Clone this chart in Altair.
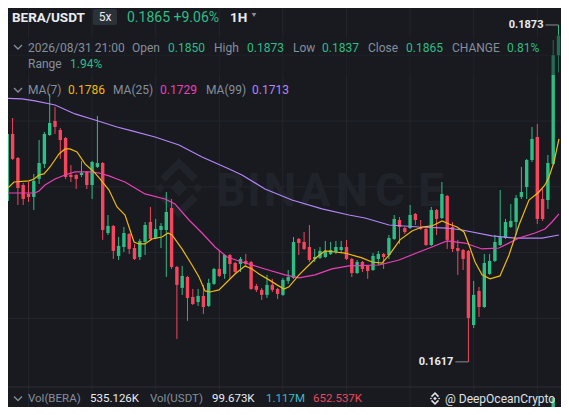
import altair as alt
import pandas as pd

BG = "#181a20"
GREEN = "#2ebd85"
RED = "#f6465d"
GRAY = "#848e9c"
WHITE = "#eaecef"
MA7_C = "#f0b90b"
MA25_C = "#eb40b5"
MA99_C = "#b385f8"
GRID_C = "#23262d"
WM_C = "#202329"
FONT = "Roboto"

# ---- candle data (1H BERA/USDT) ----
opens = [0.17446,0.17393,0.17902,0.17719,0.17514,0.17446,0.17423,0.1756,0.17674,0.17894,
         0.18001,0.17932,0.17871,0.1759,0.1759,0.1759,0.17613,0.17514,0.17651,0.17681,
         0.17149,0.17203,0.16975,0.17043,0.17142,0.17035,0.16967,0.17081,0.17233,0.17111,
         0.17172,0.17172,0.17339,0.16891,0.16732,0.16815,0.16663,0.16625,0.16671,0.16595,
         0.16763,0.16876,0.16838,0.16982,0.16921,0.16914,0.16937,0.16929,0.16747,0.16717,
         0.16679,0.16755,0.16724,0.16679,0.16785,0.16808,0.17104,0.17081,0.17043,0.16952,
         0.1696,0.16967,0.1699,0.17005,0.1702,0.17043,0.16952,0.16845,0.16929,0.16899,
         0.16868,0.16952,0.1699,0.16982,0.17104,0.17248,0.17187,0.17187,0.17294,0.17195,
         0.1718,0.17058,0.17324,0.17263,0.17431,0.17195,0.17035,0.1702,0.17013,0.1645,
         0.16709,0.16587,0.16838,0.16937,0.17058,0.17111,0.17195,0.17233,0.17423,0.17499,
         0.17704,0.17879,0.17408,0.174,0.17674,0.1850]
highs = [0.17461,0.17947,0.18023,0.17727,0.17529,0.17537,0.17598,0.17856,0.17917,0.18206,
         0.18107,0.17947,0.17879,0.17666,0.17598,0.17697,0.1762,0.17697,0.18039,0.17689,
         0.17286,0.1721,0.17119,0.17195,0.17149,0.17066,0.17104,0.17233,0.17347,0.17256,
         0.17225,0.17461,0.17408,0.16899,0.16899,0.16823,0.16724,0.16724,0.16755,0.16801,
         0.16884,0.1702,0.1699,0.1699,0.16929,0.16967,0.1699,0.16937,0.16763,0.16732,
         0.16831,0.16801,0.16732,0.16808,0.16868,0.17119,0.17111,0.17157,0.1721,0.17028,
         0.17043,0.17089,0.17081,0.17089,0.17089,0.17097,0.1696,0.16944,0.16937,0.16906,
         0.16997,0.17013,0.16997,0.17134,0.17286,0.17271,0.17195,0.17362,0.17301,0.17248,
         0.17187,0.17347,0.17332,0.17537,0.17438,0.17233,0.17097,0.17028,0.1702,0.16785,
         0.1674,0.1699,0.1699,0.17134,0.17476,0.17256,0.1737,0.17438,0.17651,0.17712,
         0.17955,0.17978,0.17484,0.17742,0.18616,0.1873]
lows = [0.17347,0.17385,0.17704,0.17362,0.17362,0.17385,0.17324,0.17522,0.17643,0.17887,
        0.17902,0.17712,0.1756,0.17537,0.17484,0.17575,0.17484,0.17408,0.17643,0.17097,
        0.17134,0.16952,0.16944,0.17005,0.1699,0.16944,0.16944,0.16982,0.17089,0.17104,
        0.17035,0.16815,0.16876,0.16344,0.16678,0.16481,0.16602,0.16595,0.16534,0.16587,
        0.16755,0.16815,0.16801,0.16801,0.16838,0.16853,0.16891,0.16717,0.16701,0.1664,
        0.16655,0.16701,0.16648,0.16671,0.16763,0.16801,0.16982,0.1702,0.16929,0.16929,
        0.16952,0.1696,0.16982,0.1699,0.16997,0.16944,0.16815,0.16838,0.16853,0.16801,
        0.16861,0.16906,0.16876,0.16952,0.17097,0.17066,0.17142,0.1718,0.1721,0.17172,
        0.17051,0.17051,0.17134,0.17256,0.17028,0.17005,0.16831,0.16868,0.1617,0.16427,
        0.16511,0.1658,0.16831,0.16929,0.17051,0.17104,0.17187,0.17134,0.17408,0.17408,
        0.17689,0.17218,0.17241,0.17332,0.17666,0.1837]
closes = [0.17393,0.17902,0.17712,0.17491,0.17408,0.17423,0.17545,0.17681,0.17902,0.17985,
          0.17955,0.17856,0.17575,0.17575,0.1756,0.17605,0.17514,0.17689,0.17681,0.17172,
          0.17203,0.17013,0.17051,0.17149,0.17028,0.16952,0.17089,0.1721,0.17104,0.1718,
          0.17203,0.17309,0.16891,0.16755,0.16823,0.16655,0.1661,0.16671,0.16587,0.1677,
          0.16876,0.16823,0.16982,0.16914,0.16853,0.16952,0.16914,0.16724,0.16717,0.16679,
          0.16755,0.16717,0.16686,0.16793,0.16815,0.17081,0.17073,0.17028,0.16944,0.16967,
          0.17013,0.17013,0.1702,0.17043,0.17043,0.16952,0.16845,0.16929,0.16876,0.16861,
          0.16975,0.1699,0.16967,0.17111,0.17256,0.17195,0.17157,0.17286,0.17248,0.1718,
          0.17058,0.17324,0.17256,0.17446,0.17097,0.17028,0.17013,0.16952,0.16503,0.16679,
          0.16587,0.16921,0.16937,0.17081,0.17119,0.17233,0.17241,0.17415,0.17461,0.17704,
          0.17864,0.17256,0.17256,0.17681,0.1850,0.1865]

# ---- moving averages ----
ma7_idx = [0.0,1.32,2.26,5.09,6.04,6.98,7.92,9.06,10.75,11.89,12.83,14.15,15.66,17.36,18.49,20.19,
           21.70,23.21,24.91,25.85,26.98,28.30,30.19,31.32,32.08,33.96,35.85,37.17,38.30,39.25,
           40.94,42.45,43.96,45.85,47.17,48.49,50.38,51.89,53.21,54.15,56.04,57.92,59.43,60.94,
           62.83,64.72,67.92,69.81,71.70,73.21,75.09,77.36,79.25,81.13,83.02,84.34,85.85,87.17,
           88.11,89.25,90.57,92.08,93.96,95.66,97.55,99.43,101.32,102.45,103.21,104.15,105.09]
ma7_val = [0.17469,0.17499,0.17537,0.17545,0.1756,0.1759,0.17598,0.17651,0.1775,0.17788,0.17788,
           0.17765,0.17674,0.17613,0.1756,0.17476,0.17347,0.17286,0.17081,0.17066,0.17066,0.17104,
           0.17119,0.17149,0.17134,0.17028,0.16906,0.16815,0.16709,0.16701,0.16717,0.16777,0.16838,
           0.16899,0.16876,0.16838,0.16793,0.16755,0.16724,0.1674,0.16831,0.16906,0.16967,0.17013,
           0.17005,0.16997,0.1696,0.16929,0.16921,0.1699,0.17097,0.17165,0.17195,0.17203,0.17241,
           0.17218,0.17195,0.17157,0.17058,0.16929,0.16831,0.16801,0.16823,0.16982,0.1721,0.174,
           0.17461,0.17514,0.17575,0.17689,0.17864]
ma25_idx = [0.0,2.45,6.23,6.98,8.11,10.0,11.89,13.77,16.42,18.30,20.19,21.70,23.21,25.09,26.98,
            30.75,32.64,35.28,37.74,40.19,42.45,45.28,49.62,53.40,56.04,59.06,62.26,65.47,71.13,
            74.91,78.68,81.13,83.96,87.36,90.57,93.77,97.55,100.57,102.45,103.77,105.09]
ma25_val = [0.17453,0.17453,0.17453,0.17469,0.17514,0.1756,0.1759,0.17613,0.17613,0.17605,0.17583,
            0.1756,0.17537,0.17491,0.17446,0.17408,0.1737,0.17248,0.17149,0.17043,0.16967,0.16929,
            0.16876,0.16831,0.16808,0.16831,0.16876,0.16899,0.16906,0.16944,0.17005,0.17043,0.17089,
            0.17073,0.17028,0.17035,0.17111,0.17149,0.1718,0.17233,0.17294]
ma99_idx = [0.0,3.77,6.23,10.0,13.77,17.55,21.70,24.53,28.87,33.40,37.74,42.45,45.28,49.62,54.72,
            60.38,65.47,68.49,73.02,78.68,83.96,86.79,92.45,96.79,101.89,105.09]
ma99_val = [0.18175,0.18168,0.18153,0.18122,0.18054,0.18008,0.17955,0.17925,0.17879,0.17818,0.17727,
            0.17643,0.1759,0.17484,0.174,0.17332,0.17286,0.17263,0.1721,0.17195,0.17187,0.17172,
            0.17127,0.17111,0.17111,0.17134]

grid_x = [5, 17, 29, 41, 53, 65, 77, 89, 101]
grid_y = [0.165, 0.170, 0.175, 0.180, 0.185]
vol_idx = [104]
marker_idx = [105, 88]
marker_price = [0.1873, 0.1617]
marker_text = ["0.1873", "0.1617"]

n = len(opens)
df = pd.DataFrame({"idx": list(range(n)), "open": opens, "high": highs,
                   "low": lows, "close": closes})
df["dir"] = ["up" if c >= o else "down" for o, c in zip(opens, closes)]

W, H = 553, 399
xs = alt.Scale(domain=[1.1321, 105.4717], nice=False, zero=False)
ys = alt.Scale(domain=[0.15827, 0.18859], nice=False, zero=False)
colr = alt.Color("dir:N", scale=alt.Scale(domain=["up", "down"], range=[GREEN, RED]), legend=None)


def X(f="idx"):
    return alt.X(f"{f}:Q", scale=xs, axis=None)


def Y(f):
    return alt.Y(f"{f}:Q", scale=ys, axis=None)


def px(v):  # reference pixel -> chart pixel
    return v - 6


def label(s, x, y, color, size=12, weight="normal", align="left"):
    return alt.Chart(pd.DataFrame({"t": [s]})).mark_text(
        align=align, baseline="middle", fontSize=size, fontWeight=weight, font=FONT, color=color
    ).encode(text="t:N", x=alt.value(px(x)), y=alt.value(px(y)))


one = pd.DataFrame({"a": [0]})

vgrid = alt.Chart(pd.DataFrame({"idx": grid_x})).mark_rule(color=GRID_C, strokeWidth=1).encode(x=X())
hgrid = alt.Chart(pd.DataFrame({"p": grid_y})).mark_rule(color=GRID_C, strokeWidth=1).encode(y=Y("p"))
sep = alt.Chart(one).mark_rule(color="#2b2f36", strokeWidth=1).encode(
    x=alt.value(0), x2=alt.value(W), y=alt.value(px(385)))

# watermark
LOGO = ("M0,-0.28L0.28,0L0,0.28L-0.28,0Z "
        "M-0.62,-0.15L-0.47,0L-0.62,0.15L-0.77,0Z "
        "M0.62,-0.15L0.77,0L0.62,0.15L0.47,0Z "
        "M0,-1L0.62,-0.38L0.45,-0.21L0,-0.66L-0.45,-0.21L-0.62,-0.38Z "
        "M0,1L0.62,0.38L0.45,0.21L0,0.66L-0.45,0.21L-0.62,0.38Z")
wm_logo = alt.Chart(one).mark_point(shape=LOGO, filled=True, color=WM_C, opacity=1, size=3600).encode(
    x=alt.value(px(177)), y=alt.value(px(186)))
wm_letters = []
for ch, cx in zip("BINANCE", [229, 252, 278, 313, 350, 388, 429]):
    wm_letters.append(label(ch, cx, 190, WM_C, size=46, weight="bold", align="center"))

wicks = alt.Chart(df).mark_rule(strokeWidth=1, clip=True).encode(
    x=X(), y=Y("low"), y2="high:Q", color=colr)
bodies = alt.Chart(df).mark_rule(strokeWidth=3.4, clip=True).encode(
    x=X(), y=Y("open"), y2="close:Q", color=colr)


def ma_line(ix, vals, c):
    return alt.Chart(pd.DataFrame({"idx": ix, "v": vals})).mark_line(
        color=c, strokeWidth=1.2, clip=True).encode(x=X(), y=Y("v"), order="idx:Q")


ma99 = ma_line(ma99_idx, ma99_val, MA99_C)
ma25 = ma_line(ma25_idx, ma25_val, MA25_C)
ma7 = ma_line(ma7_idx, ma7_val, MA7_C)

overlay = alt.Chart(one).mark_rect(color=BG, opacity=0.5).encode(
    x=alt.value(0), x2=alt.value(W), y=alt.value(px(33)), y2=alt.value(px(73)))

volbar = alt.Chart(pd.DataFrame({"idx": vol_idx})).mark_rule(color=GREEN, strokeWidth=3.4, clip=True).encode(
    x=X(), y=alt.value(px(396)), y2=alt.value(H))

mk = pd.DataFrame({"idx": marker_idx, "p": marker_price, "t": marker_text})
mk_text = alt.Chart(mk).mark_text(align="right", baseline="middle", fontSize=11, fontWeight="bold",
                                  font=FONT, color=WHITE, dx=-15).encode(x=X(), y=Y("p"), text="t:N")
mk_line = alt.Chart(mk).mark_tick(color="#b7bdc6", thickness=1, size=13, orient="horizontal",
                                  xOffset=-6.5).encode(x=X(), y=Y("p"))

# header
box5x = alt.Chart(one).mark_rect(color="#2b3139", cornerRadius=2).encode(
    x=alt.value(px(91)), x2=alt.value(px(115)), y=alt.value(px(7)), y2=alt.value(px(23)))
CHEV = "M-1,-0.5L0,0.5L1,-0.5"


def chev(x, y):
    return alt.Chart(one).mark_point(shape=CHEV, filled=False, color=GRAY, strokeWidth=1.3,
                                     size=64, opacity=1).encode(x=alt.value(px(x)), y=alt.value(px(y)))


tri = alt.Chart(one).mark_point(shape="triangle-down", filled=True, color=GRAY, size=22, opacity=1).encode(
    x=alt.value(px(252)), y=alt.value(px(13)))
small_logo = alt.Chart(one).mark_point(shape=LOGO, filled=True, color="#dfe1e4", size=170, opacity=1).encode(
    x=alt.value(px(433)), y=alt.value(px(396.5)))

BOT = 396.5
texts = [
    label("BERA/USDT", 10, 15.5, WHITE, 13.5, "bold"),
    label("5x", 103, 15, WHITE, 12, "normal", "center"),
    label("0.1865 +9.06%", 125, 15.5, GREEN, 14),
    label("1H", 228, 15.5, WHITE, 13.5, "bold"),
    label("2026/08/31 21:00", 26, 45.5, GRAY, 12),
    label("Open", 130, 45.5, GRAY, 12),
    label("0.1850", 166, 45.5, GREEN, 12),
    label("High", 212, 45.5, GRAY, 12),
    label("0.1873", 245, 45.5, GREEN, 12),
    label("Low", 291, 45.5, GRAY, 12),
    label("0.1837", 320, 45.5, GREEN, 12),
    label("Close", 366, 45.5, GRAY, 12),
    label("0.1865", 404, 45.5, GREEN, 12),
    label("CHANGE", 450, 45.5, GRAY, 12),
    label("0.81%", 505, 45.5, GREEN, 12),
    label("Range", 26, 62, GRAY, 12),
    label("1.94%", 68, 62, GREEN, 12),
    label("MA(7)", 26, 88, GRAY, 12),
    label("0.1786", 66, 88, MA7_C, 12),
    label("MA(25)", 111, 88, GRAY, 12),
    label("0.1729", 158, 88, MA25_C, 12),
    label("MA(99)", 204, 88, GRAY, 12),
    label("0.1713", 250, 88, MA99_C, 12),
    label("Vol(BERA)", 26, BOT, GRAY, 11.5),
    label("535.126K", 88, BOT, WHITE, 11.5),
    label("Vol(USDT)", 148, BOT, GRAY, 11.5),
    label("99.673K", 210, BOT, WHITE, 11.5),
    label("1.117M", 264, BOT, "#3fb8c8", 11.5),
    label("652.537K", 311, BOT, "#e9485e", 11.5),
    label("@ DeepOceanCrypto", 443, BOT, "#dfe1e4", 12),
]

chart = alt.layer(
    vgrid, hgrid, sep, wm_logo, *wm_letters,
    wicks, bodies, ma99, ma25, ma7, overlay, volbar, mk_line, mk_text,
    box5x, tri, chev(16, 45), chev(16, 88), chev(16, BOT), small_logo, *texts
).properties(
    width=W, height=H, background=BG, padding=0,
    autosize=alt.AutoSizeParams(type="none")
).configure_view(stroke=None)

chart.save("out.html", embed_options={"renderer": "svg", "actions": False})
